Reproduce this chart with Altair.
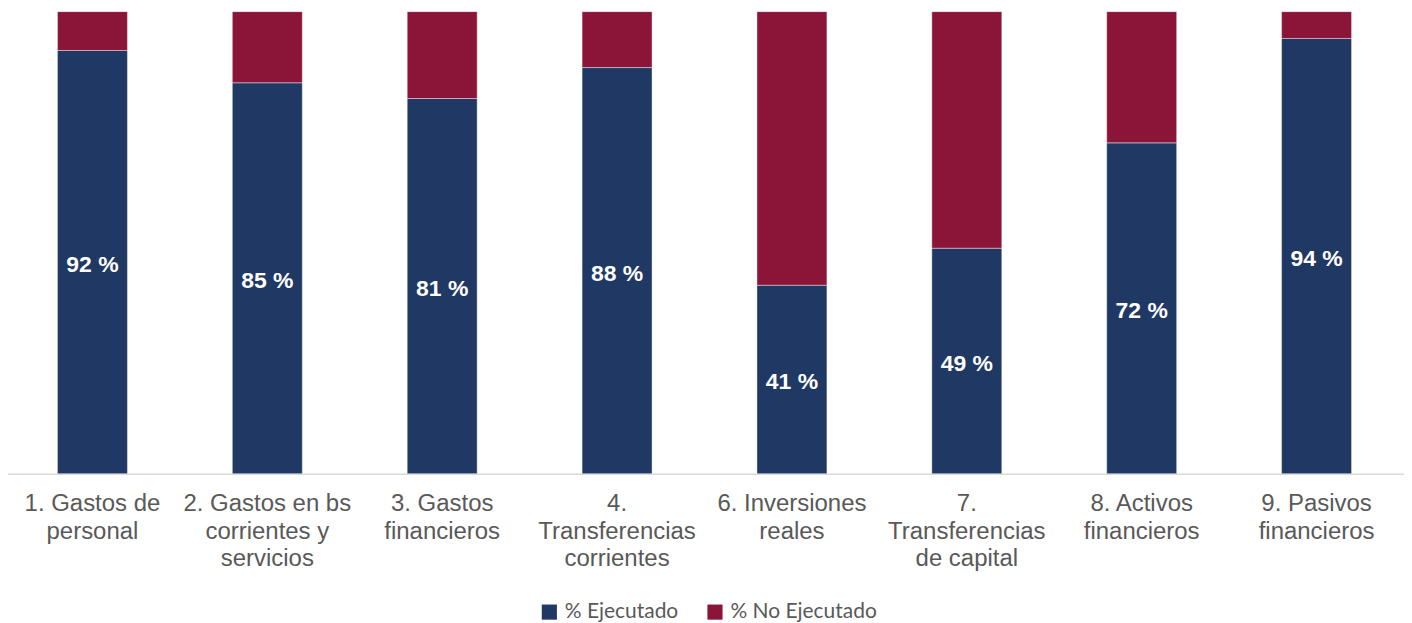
import altair as alt
import pandas as pd

categories = [
    "1. Gastos de|personal",
    "2. Gastos en bs|corrientes y|servicios",
    "3. Gastos|financieros",
    "4.|Transferencias|corrientes",
    "6. Inversiones|reales",
    "7.|Transferencias|de capital",
    "8. Activos|financieros",
    "9. Pasivos|financieros",
]
ejecutado = [91.6, 84.6, 81.2, 87.9, 40.8, 48.8, 71.6, 94.2]
no_ejecutado = [8.4, 15.4, 18.8, 12.1, 59.2, 51.2, 28.4, 5.8]
series = ["% Ejecutado", "% No Ejecutado"]
colors = ["#1f3864", "#8b1538"]

rows = []
for c, e, n in zip(categories, ejecutado, no_ejecutado):
    rows.append({"cat": c, "serie": series[0], "val": e, "ord": 0})
    rows.append({"cat": c, "serie": series[1], "val": n, "ord": 1})
df = pd.DataFrame(rows)
lab = pd.DataFrame({"cat": categories, "val": ejecutado})

x = alt.X("cat:N", sort=categories, title=None,
          scale=alt.Scale(paddingInner=0.6, paddingOuter=0.3),
          axis=alt.Axis(labelAngle=0, ticks=False, labelPadding=18,
                        labelExpr="split(datum.label, '|')",
                        labelFont="Liberation Sans", labelFontSize=24,
                        labelLineHeight=27.5, labelColor="#595959",
                        domainColor="#d9d9d9", domainWidth=1.5,
                        labelBaseline="top", labelLimit=300))

bars = alt.Chart(df).mark_bar(stroke="white", strokeWidth=0.8, strokeOpacity=0.5).encode(
    x=x,
    y=alt.Y("val:Q", stack="zero", scale=alt.Scale(domain=[0, 100], nice=False),
            axis=None),
    color=alt.Color("serie:N", sort=series,
                    scale=alt.Scale(domain=series, range=colors),
                    legend=alt.Legend(title=None, orient="none", direction="horizontal",
                                      legendX=535, legendY=591,
                                      symbolType="square", symbolSize=230,
                                      symbolStrokeWidth=0,
                                      labelFont="Lato", labelFontSize=21,
                                      labelColor="#595959", labelOffset=5,
                                      columnPadding=26, labelLimit=300)),
    order=alt.Order("ord:Q"),
)

texts = alt.Chart(lab).transform_calculate(
    mid="datum.val / 2",
    txt="format(datum.val, '.0f') + ' %'",
).mark_text(color="white", font="Liberation Sans", fontWeight="bold",
            fontSize=23, baseline="middle", dy=3).encode(
    x=alt.X("cat:N", sort=categories),
    y=alt.Y("mid:Q"),
    text="txt:N",
)

chart = alt.layer(bars, texts).properties(
    width=1402, height=463,
    padding={"left": -3, "top": 3, "right": 0, "bottom": 148},
    autosize=alt.AutoSizeParams(type="none"),
).configure_view(stroke=None)

chart.save("out.html", embed_options={"renderer": "svg", "actions": False})
